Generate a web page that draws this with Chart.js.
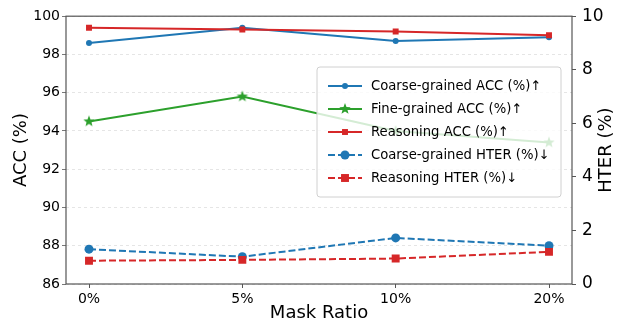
<!DOCTYPE html>
<html>
<head>
<meta charset="utf-8">
<script src="https://cdn.jsdelivr.net/npm/chart.js@4"></script>
<style>
  html, body { margin: 0; padding: 0; background: #fff; }
  #wrap { width: 625px; height: 322px; }
</style>
</head>
<body>
<div id="wrap"><canvas id="myChart" width="625" height="322"></canvas></div>
<script>
// data
const ratios = ["0%", "5%", "10%", "20%"];
const coarseAcc = [98.6, 99.4, 98.7, 98.9];
const fineAcc = [94.5, 95.8, 94.0, 93.4];
const reasonAcc = [99.4, 99.3, 99.2, 99.0];
const coarseHter = [1.3, 1.02, 1.72, 1.43];
const reasonHter = [0.87, 0.9, 0.95, 1.2];
const accTicks = [86, 88, 90, 92, 94, 96, 98, 100];
const hterTicks = [0, 2, 4, 6, 8, 10];

const BLUE = "#1f77b4";
const GREEN = "#2ca02c";
const RED = "#d62728";
const FONT = "'DejaVu Sans', sans-serif";

const toPoints = (arr) => arr.map((v, i) => ({ x: i, y: v }));

// filled star marker like matplotlib '*'
const makeStar = (color, r) => {
  const c = document.createElement("canvas");
  const s = Math.ceil(r * 2 + 2);
  c.width = s;
  c.height = s;
  const g = c.getContext("2d");
  g.fillStyle = color;
  g.beginPath();
  for (let k = 0; k < 10; k++) {
    const rad = k % 2 === 0 ? r : r * 0.42;
    const a = -Math.PI / 2 + (k * Math.PI) / 5;
    g.lineTo(s / 2 + rad * Math.cos(a), s / 2 + rad * Math.sin(a));
  }
  g.closePath();
  g.fill();
  return c;
};
const star = makeStar(GREEN, 6);

const series = [
  { label: "Coarse-grained ACC (%)↑", data: coarseAcc, color: BLUE, axis: "y", style: "circle", r: 3, dash: [] },
  { label: "Fine-grained ACC (%)↑", data: fineAcc, color: GREEN, axis: "y", style: star, r: 6, dash: [] },
  { label: "Reasoning ACC (%)↑", data: reasonAcc, color: RED, axis: "y", style: "rect", r: 4.2, dash: [] },
  { label: "Coarse-grained HTER (%)↓", data: coarseHter, color: BLUE, axis: "y1", style: "circle", r: 4.5, dash: [7, 3] },
  { label: "Reasoning HTER (%)↓", data: reasonHter, color: RED, axis: "y1", style: "rect", r: 5.6, dash: [7, 3] },
];

const datasets = series.map((s, i) => ({
  label: s.label,
  data: toPoints(s.data),
  yAxisID: s.axis,
  borderColor: s.color,
  backgroundColor: s.color,
  borderWidth: 2,
  borderDash: s.dash,
  pointStyle: s.style,
  pointRadius: s.r,
  pointHoverRadius: s.r,
  pointBorderWidth: 0,
  tension: 0,
  order: series.length - i,
}));

const drawMarker = (ctx, s, x, y) => {
  ctx.fillStyle = s.color;
  if (s.style === "circle") {
    ctx.beginPath();
    ctx.arc(x, y, s.r, 0, Math.PI * 2);
    ctx.fill();
  } else if (s.style === "rect") {
    const h = s.r * Math.SQRT1_2;
    ctx.fillRect(x - h, y - h, 2 * h, 2 * h);
  } else {
    ctx.drawImage(s.style, x - s.style.width / 2, y - s.style.height / 2);
  }
};

const extras = {
  id: "extras",
  afterDraw(chart) {
    const ctx = chart.ctx;
    const a = chart.chartArea;
    ctx.save();
    // frame
    ctx.strokeStyle = "#555";
    ctx.lineWidth = 1.2;
    ctx.strokeRect(a.left, a.top, a.right - a.left, a.bottom - a.top);

    ctx.fillStyle = "#000";
    ctx.font = "18px " + FONT;
    ctx.textAlign = "center";
    ctx.textBaseline = "middle";
    // x axis title
    ctx.fillText("Mask Ratio", (a.left + a.right) / 2, 313);
    // right axis title, reads bottom to top
    ctx.translate(606, (a.top + a.bottom) / 2);
    ctx.rotate(-Math.PI / 2);
    ctx.fillText("HTER (%)", 0, 0);
    ctx.setTransform(1, 0, 0, 1, 0, 0);

    // legend box
    const bx = 317, by = 67, bw = 244, bh = 130;
    ctx.beginPath();
    ctx.roundRect(bx, by, bw, bh, 3);
    ctx.fillStyle = "rgba(255,255,255,0.8)";
    ctx.fill();
    ctx.strokeStyle = "#d0d0d0";
    ctx.lineWidth = 1;
    ctx.stroke();

    ctx.font = "13.2px " + FONT;
    ctx.textAlign = "left";
    series.forEach((s, i) => {
      const y = 86 + i * 23;
      ctx.strokeStyle = s.color;
      ctx.lineWidth = 2;
      ctx.setLineDash(s.dash);
      ctx.beginPath();
      ctx.moveTo(328, y);
      ctx.lineTo(362, y);
      ctx.stroke();
      ctx.setLineDash([]);
      drawMarker(ctx, s, 345, y);
      ctx.fillStyle = "#000";
      ctx.fillText(s.label, 371, y + 1);
    });
    ctx.restore();
  },
};

const config = {
  type: "line",
  data: { datasets: datasets },
  options: {
    responsive: false,
    animation: false,
    layout: { padding: { top: 15, left: 0, right: 0, bottom: 0 } },
    plugins: {
      legend: { display: false },
      tooltip: { enabled: false },
    },
    scales: {
      x: {
        type: "linear",
        min: -0.15,
        max: 3.15,
        afterBuildTicks: (scale) => {
          scale.ticks = ratios.map((r, i) => ({ value: i }));
        },
        afterFit: (scale) => {
          scale.height = 38;
        },
        ticks: {
          callback: (v) => ratios[v],
          font: { family: FONT, size: 14 },
          color: "#000",
          padding: 3,
          maxRotation: 0,
        },
        grid: { drawOnChartArea: false, tickLength: 4, tickColor: "#555" },
        border: { display: false },
      },
      y: {
        position: "left",
        min: 86,
        max: 100,
        afterBuildTicks: (scale) => {
          scale.ticks = accTicks.map((v) => ({ value: v }));
        },
        afterFit: (scale) => {
          scale.width = 66;
        },
        ticks: {
          font: { family: FONT, size: 14 },
          color: "#000",
          padding: 2,
        },
        grid: {
          color: "rgba(0,0,0,0.13)",
          lineWidth: 0.8,
          tickLength: 4,
          tickColor: "#555",
          tickBorderDash: [],
        },
        border: { display: false, dash: [3, 3] },
        title: {
          display: true,
          text: "ACC (%)",
          font: { family: FONT, size: 18 },
          color: "#000",
          padding: { top: 11, bottom: 0 },
        },
      },
      y1: {
        position: "right",
        min: 0,
        max: 10,
        afterBuildTicks: (scale) => {
          scale.ticks = hterTicks.map((v) => ({ value: v }));
        },
        afterFit: (scale) => {
          scale.width = 53;
        },
        ticks: {
          font: { family: FONT, size: 17 },
          color: "#000",
          padding: 6,
        },
        grid: { drawOnChartArea: false, tickLength: 4, tickColor: "#555" },
        border: { display: false },
      },
    },
  },
  plugins: [extras],
};

const myChart = new Chart(document.getElementById("myChart"), config);
</script>
</body>
</html>
